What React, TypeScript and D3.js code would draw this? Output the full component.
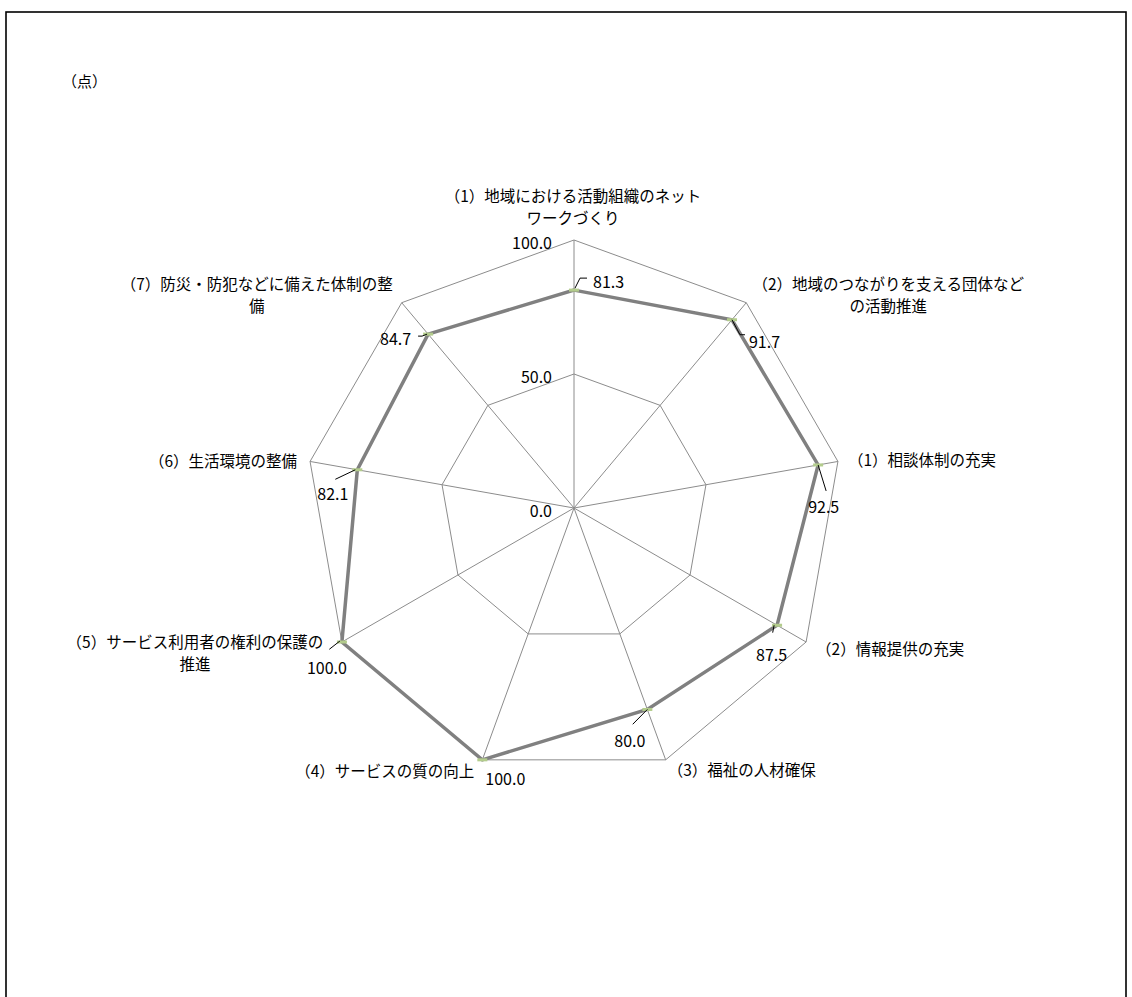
import React from 'react';
import * as d3 from 'd3';

// ---- data ----
const categories: string[][] = [
  ['（1）地域における活動組織のネット', 'ワークづくり'],
  ['（2）地域のつながりを支える団体など', 'の活動推進'],
  ['（1）相談体制の充実'],
  ['（2）情報提供の充実'],
  ['（3）福祉の人材確保'],
  ['（4）サービスの質の向上'],
  ['（5）サービス利用者の権利の保護の', '推進'],
  ['（6）生活環境の整備'],
  ['（7）防災・防犯などに備えた体制の整', '備'],
];
const values: number[] = [81.3, 91.7, 92.5, 87.5, 80.0, 100.0, 100.0, 82.1, 84.7];
const ringTicks: number[] = [0, 50, 100];
const unitLabel = '（点）';

// ---- layout ----
const W = 1132;
const H = 997;
const cx = 574;
const cy = 508;
const R = 268;

// category label offsets relative to outer vertex
const catLayout = [
  { dx: -1, dy: -45, anchor: 'middle' },
  { dx: 142, dy: -20, anchor: 'middle' },
  { dx: 10, dy: -2, anchor: 'start' },
  { dx: 10, dy: 6, anchor: 'start' },
  { dx: 2, dy: 9, anchor: 'start' },
  { dx: -8, dy: 10, anchor: 'end' },
  { dx: -147, dy: -1, anchor: 'middle' },
  { dx: -13, dy: -1.5, anchor: 'end' },
  { dx: -145, dy: -20, anchor: 'middle' },
];
// value label offsets relative to data point, plus leader polyline
const valLayout: { dx: number; dy: number; leader: [number, number][] }[] = [
  { dx: 19, dy: -9, leader: [[1, -2], [6, -12], [13, -12]] },
  { dx: 17, dy: 21, leader: [[0, 0], [8, 15], [13, 15]] },
  { dx: -10, dy: 41, leader: [[0, 0], [8, 26]] },
  { dx: -21, dy: 29, leader: [[-3, 0], [-4.4, 7.4]] },
  { dx: -33, dy: 31, leader: [[0, 0], [-14.6, 14.8]] },
  { dx: 3, dy: 18, leader: [] },
  { dx: -35, dy: 25, leader: [[-2, -1], [-12.6, 7.3]] },
  { dx: -40, dy: 23, leader: [[-2, 0], [-22, 9.5]] },
  { dx: -48, dy: 4, leader: [[-1, 0], [-6, 2], [-10, 2]] },
];

const FONT = '"Noto Sans CJK JP", "Noto Sans", sans-serif';
const GRID = '#8c8c8c';

export default function App() {
  const n = categories.length;
  const r = d3.scaleLinear().domain([0, 100]).range([0, R]);
  const angle = (i: number) => (i * 2 * Math.PI) / n;
  const pt = (i: number, v: number): [number, number] => [
    Math.sin(angle(i)) * r(v),
    -Math.cos(angle(i)) * r(v),
  ];

  const radial = d3
    .lineRadial<number>()
    .angle((_, i) => angle(i))
    .radius((d) => r(d))
    .curve(d3.curveLinearClosed);

  const ringLevels = ringTicks.filter((t) => t > 0);
  const lineGen = d3.line();

  return (
    <svg
      width={W}
      height={H}
      style={{ position: 'absolute', left: 0, top: 0, background: '#fff' }}
      fontFamily={FONT}
    >
      <rect x={0} y={0} width={W} height={H} fill="#fff" />
      <rect x={6} y={12} width={1120} height={1010} fill="none" stroke="#000" strokeWidth={1.6} />
      <text x={62} y={80} fontSize={15} dominantBaseline="central" fill="#000">
        {unitLabel}
      </text>
      <g transform={`translate(${cx},${cy})`}>
        {ringLevels.map((t) => (
          <path
            key={t}
            d={radial(d3.range(n).map(() => t)) || ''}
            fill="none"
            stroke={GRID}
            strokeWidth={1}
          />
        ))}
        {d3.range(n).map((i) => {
          const [x, y] = pt(i, 100);
          return <line key={i} x1={0} y1={0} x2={x} y2={y} stroke={GRID} strokeWidth={1} />;
        })}
        {ringTicks.map((t) => (
          <text
            key={t}
            x={-22}
            y={-r(t) + 2}
            textAnchor="end"
            dominantBaseline="central"
            fontSize={16}
            fill="#000"
          >
            {t.toFixed(1)}
          </text>
        ))}
        <path d={radial(values) || ''} fill="none" stroke="#808080" strokeWidth={3.5} strokeLinejoin="miter" />
        {values.map((v, i) => {
          const [x, y] = pt(i, v);
          return <rect key={i} x={x - 5} y={y - 1.5} width={10} height={3} fill="#b3cc8c" />;
        })}
        {values.map((v, i) => {
          const [x, y] = pt(i, v);
          const L = valLayout[i];
          return (
            <g key={i}>
              {L.leader.length > 1 && (
                <path
                  d={lineGen(L.leader.map(([a, b]) => [x + a, y + b] as [number, number])) || ''}
                  fill="none"
                  stroke="#000"
                  strokeWidth={1}
                />
              )}
              <text
                x={x + L.dx}
                y={y + L.dy}
                dominantBaseline="central"
                fontSize={16}
                fill="#000"
              >
                {v.toFixed(1)}
              </text>
            </g>
          );
        })}
        {categories.map((lines, i) => {
          const [x, y] = pt(i, 100);
          const L = catLayout[i];
          return (
            <text
              key={i}
              x={x + L.dx}
              y={y + L.dy}
              textAnchor={L.anchor as any}
              dominantBaseline="central"
              fontSize={15.5}
              fill="#000"
            >
              {lines.map((s, j) => (
                <tspan key={j} x={x + L.dx} dy={j === 0 ? 0 : 22}>
                  {s}
                </tspan>
              ))}
            </text>
          );
        })}
      </g>
    </svg>
  );
}
